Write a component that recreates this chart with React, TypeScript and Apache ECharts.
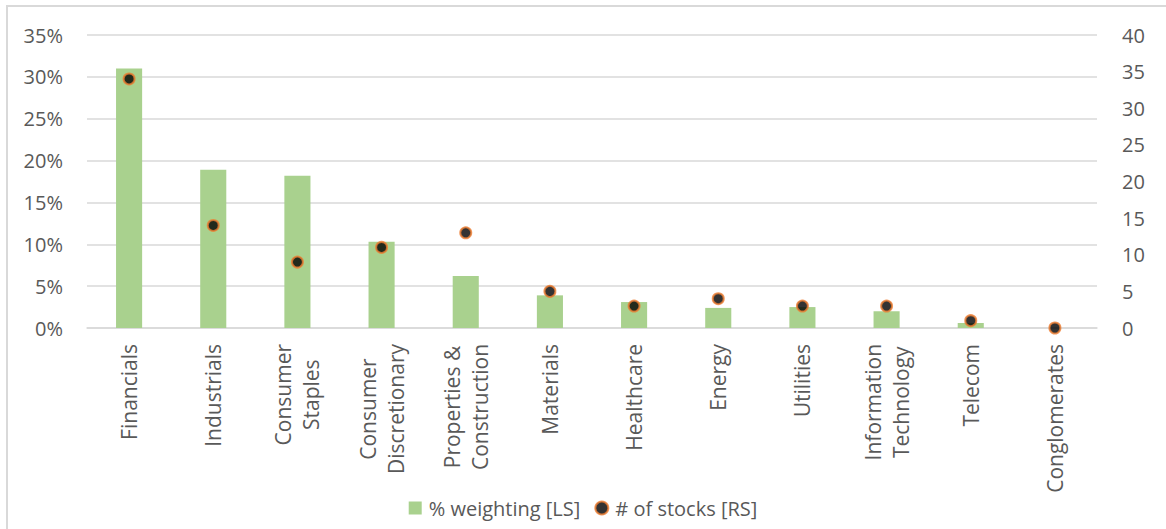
import React, { useEffect, useRef } from "react";
import * as echarts from "echarts";

// Sector breakdown: index weighting (left scale) and number of stocks (right scale)
const sectors = [
  "Financials",
  "Industrials",
  "Consumer\nStaples",
  "Consumer\nDiscretionary",
  "Properties &\nConstruction",
  "Materials",
  "Healthcare",
  "Energy",
  "Utilities",
  "Information\nTechnology",
  "Telecom",
  "Conglomerates",
];

// % weighting, as fractions
const weighting = [0.31, 0.189, 0.182, 0.103, 0.062, 0.039, 0.031, 0.024, 0.025, 0.02, 0.006, 0.0];

// # of stocks
const stockCounts = [34, 14, 9, 11, 13, 5, 3, 4, 3, 3, 1, 0];

const leftTicks = { min: 0, max: 0.35, interval: 0.05 };
const rightTicks = { min: 0, max: 40, interval: 5 };

const FONT = "Open Sans";
const AXIS_FONT_SIZE = 20;
const CATEGORY_FONT_SIZE = 21;
const TEXT = "#595959";
const GRID_GREY = "#d9d9d9";

export default function App() {
  const ref = useRef<HTMLDivElement>(null);

  useEffect(() => {
    if (!ref.current) return;
    const chart = echarts.init(ref.current, undefined, { renderer: "svg" });

    chart.setOption({
      animation: false,
      backgroundColor: "#ffffff",
      textStyle: { fontFamily: FONT, color: TEXT },
      graphic: [
        {
          type: "rect",
          silent: true,
          shape: { x: 7, y: 6, width: 1300, height: 700 },
          style: { fill: "none", stroke: GRID_GREY, lineWidth: 2 },
        },
      ],
      grid: { left: 87, right: 69, top: 35, bottom: 201 },
      legend: {
        bottom: 6,
        left: "center",
        itemGap: 14,
        itemWidth: 13,
        itemHeight: 13,
        textStyle: { fontFamily: FONT, fontSize: AXIS_FONT_SIZE, color: TEXT, padding: [0, 0, 0, 2] },
        data: [
          { name: "% weighting [LS]", icon: "rect" },
          { name: "# of stocks [RS]", icon: "circle" },
        ],
      },
      xAxis: {
        type: "category",
        data: sectors,
        axisLine: { lineStyle: { color: GRID_GREY, width: 1.5 } },
        axisTick: { show: false },
        axisLabel: {
          interval: 0,
          rotate: 90,
          margin: 16,
          formatter: (v: string) =>
            v
              .split("\n")
              .map((s) => `{c|${s}}`)
              .join("\n"),
          rich: {
            c: {
              align: "center",
              fontFamily: FONT,
              fontSize: CATEGORY_FONT_SIZE,
              lineHeight: 28,
              color: TEXT,
            },
          },
        },
      },
      yAxis: [
        {
          type: "value",
          ...leftTicks,
          axisLine: { show: false },
          axisTick: { show: false },
          splitLine: { lineStyle: { color: GRID_GREY, width: 1.5 } },
          axisLabel: {
            margin: 24,
            fontFamily: FONT,
            fontSize: AXIS_FONT_SIZE,
            color: TEXT,
            formatter: (v: number) => `${Math.round(v * 100)}%`,
          },
        },
        {
          type: "value",
          position: "right",
          ...rightTicks,
          axisLine: { show: false },
          axisTick: { show: false },
          splitLine: { show: false },
          axisLabel: {
            margin: 25,
            fontFamily: FONT,
            fontSize: AXIS_FONT_SIZE,
            color: TEXT,
          },
        },
      ],
      series: [
        {
          name: "% weighting [LS]",
          type: "bar",
          yAxisIndex: 0,
          barWidth: "31%",
          itemStyle: { color: "#a9d18e" },
          data: weighting,
        },
        {
          name: "# of stocks [RS]",
          type: "scatter",
          yAxisIndex: 1,
          symbol: "circle",
          symbolSize: 11,
          itemStyle: { color: "#000000", borderColor: "#ed7d31", borderWidth: 2 },
          data: stockCounts,
        },
      ],
    });

    return () => chart.dispose();
  }, []);

  return (
    <div
      ref={ref}
      style={{ position: "absolute", left: 0, top: 0, width: 1166, height: 529 }}
    />
  );
}
